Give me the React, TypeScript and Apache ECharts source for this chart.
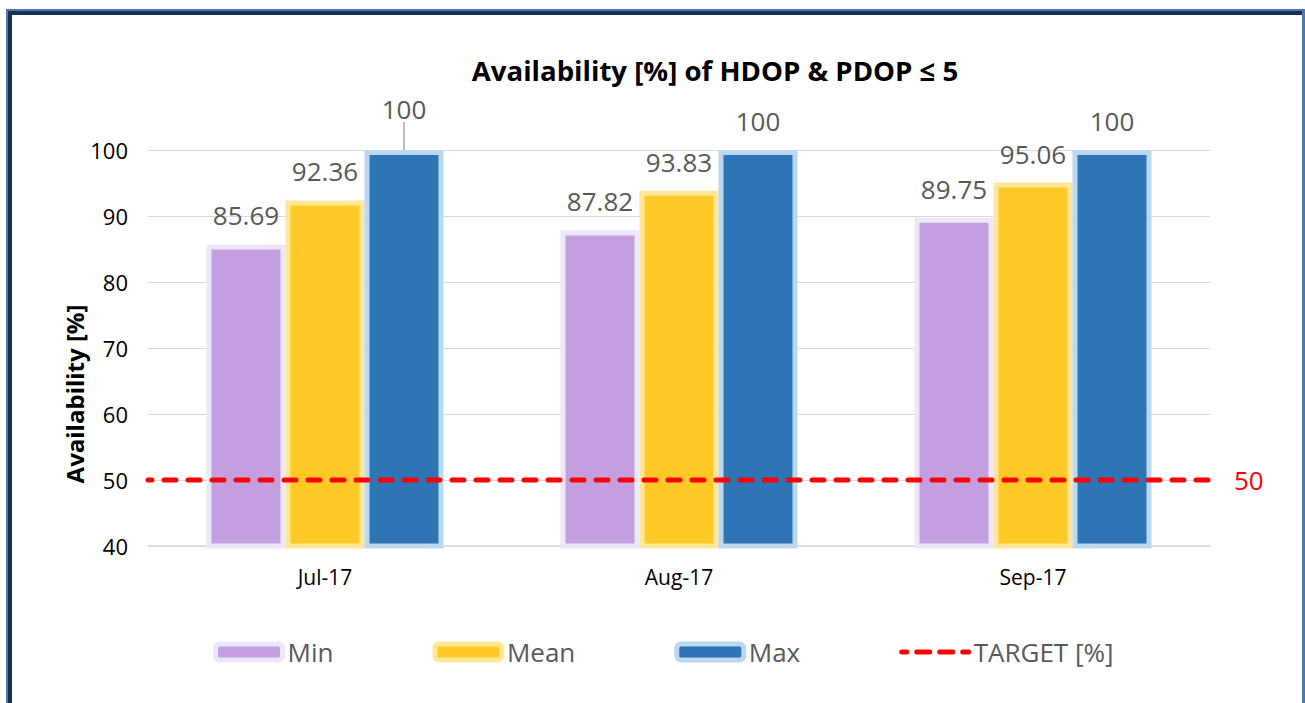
import React, { useEffect, useRef } from "react";
import * as echarts from "echarts";

const categories = ["Jul-17", "Aug-17", "Sep-17"];
const minValues = [85.69, 87.82, 89.75];
const meanValues = [92.36, 93.83, 95.06];
const maxValues = [100, 100, 100];
const targetValue = 50;
const yMin = 40;
const yMax = 100;
const yInterval = 10;
const titleText = "Availability [%] of HDOP & PDOP \u2264 5";
const yAxisTitle = "Availability [%]";
const seriesNames = ["Min", "Mean", "Max", "TARGET [%]"];

const FONT = "'Open Sans', 'Noto Sans', sans-serif";

export default function App() {
  const ref = useRef<HTMLDivElement>(null);
  useEffect(() => {
    if (!ref.current) return;
    const chart = echarts.init(ref.current, null, { renderer: "svg" });
    const labelBase = {
      show: true,
      position: "top",
      distance: 16,
      color: "#595959",
      fontSize: 26,
      fontFamily: FONT,
    };
    const barCommon = {
      type: "bar",
      barWidth: 79,
      barGap: "0%",
      label: labelBase,
    };
    chart.setOption({
      animation: false,
      backgroundColor: "#ffffff",
      textStyle: { fontFamily: FONT },
      grid: { left: 148, right: 95, top: 150, bottom: 157, containLabel: false },
      graphic: [
        { type: "rect", shape: { x: 6, y: 9, width: 1299, height: 2 }, style: { fill: "#4a78b8" }, silent: true },
        { type: "rect", shape: { x: 6, y: 9, width: 2, height: 700 }, style: { fill: "#4a78b8" }, silent: true },
        { type: "rect", shape: { x: 8, y: 11, width: 4, height: 700 }, style: { fill: "#1c2f4d" }, silent: true },
        { type: "rect", shape: { x: 8, y: 11, width: 1294, height: 4 }, style: { fill: "#1c2f4d" }, silent: true },
        { type: "rect", shape: { x: 1302, y: 11, width: 3, height: 700 }, style: { fill: "#4a78b8" }, silent: true },
        {
          type: "text",
          x: 715,
          y: 70,
          style: {
            text: titleText,
            fill: "#000000",
            font: `bold 27.6px ${FONT}`,
            textAlign: "center",
            textVerticalAlign: "middle",
          },
        },
        {
          type: "text",
          x: 74,
          y: 394,
          rotation: Math.PI / 2,
          style: {
            text: yAxisTitle,
            fill: "#000000",
            font: `bold 24px ${FONT}`,
            textAlign: "center",
            textVerticalAlign: "middle",
          },
        },
      ],
      legend: {
        left: 208,
        top: 634,
        itemWidth: 67,
        itemHeight: 16,
        itemGap: 99,
        textStyle: { color: "#595959", fontSize: 26, fontFamily: FONT },
        data: [
          { name: seriesNames[0], itemStyle: { borderWidth: 5, borderColor: "#ede7fa" } },
          { name: seriesNames[1], itemStyle: { borderWidth: 5, borderColor: "#ffe699" } },
          { name: seriesNames[2], itemStyle: { borderWidth: 5, borderColor: "#bdd7ee" } },
          {
            name: seriesNames[3],
            itemStyle: { opacity: 0, borderWidth: 0 },
            lineStyle: { color: "#ff0000", width: 5, type: [13, 10], cap: "round" },
          },
        ],
      },
      xAxis: [
        {
          type: "category",
          data: categories,
          axisLine: { lineStyle: { color: "#d9d9d9", width: 1.5 } },
          axisTick: { show: false },
          axisLabel: { color: "#000000", fontSize: 21, fontFamily: FONT, margin: 20 },
        },
        { type: "value", min: 0, max: 1, show: false },
      ],
      yAxis: {
        type: "value",
        min: yMin,
        max: yMax,
        interval: yInterval,
        axisLine: { show: false },
        axisTick: { show: false },
        splitLine: { lineStyle: { color: "#d9d9d9", width: 1 } },
        axisLabel: { color: "#000000", fontSize: 22, fontFamily: FONT, margin: 20 },
      },
      series: [
        {
          ...barCommon,
          name: seriesNames[0],
          data: minValues,
          itemStyle: { color: "#c49fe0", borderColor: "#ede7fa", borderWidth: 5 },
        },
        {
          ...barCommon,
          name: seriesNames[1],
          data: meanValues,
          itemStyle: { color: "#ffca28", borderColor: "#ffe699", borderWidth: 5 },
        },
        {
          ...barCommon,
          name: seriesNames[2],
          data: maxValues.map((v, i) =>
            i === 0
              ? {
                  value: v,
                  labelLine: { show: true, lineStyle: { color: "#a6a6a6", width: 1.5 } },
                }
              : v
          ),
          labelLine: { show: false },
          labelLayout: (params: any) => (params.dataIndex === 0 ? { dy: -12 } : {}),
          itemStyle: { color: "#2e75b6", borderColor: "#bdd7ee", borderWidth: 5 },
        },
        {
          type: "line",
          name: seriesNames[3],
          xAxisIndex: 1,
          data: [
            [0, targetValue],
            [1, targetValue],
          ],
          symbol: "none",
          showSymbol: false,
          z: 5,
          lineStyle: { color: "#ff0000", width: 5, type: [12, 12], dashOffset: 7.5, cap: "round" },
          itemStyle: { color: "#ff0000" },
          endLabel: {
            show: true,
            formatter: String(targetValue),
            color: "#ff0000",
            fontSize: 26,
            fontFamily: FONT,
            distance: 24,
          },
        },
      ],
    });
    return () => chart.dispose();
  }, []);
  return (
    <div
      ref={ref}
      style={{ position: "fixed", left: 0, top: 0, width: 1305, height: 703, background: "#fff" }}
    />
  );
}
